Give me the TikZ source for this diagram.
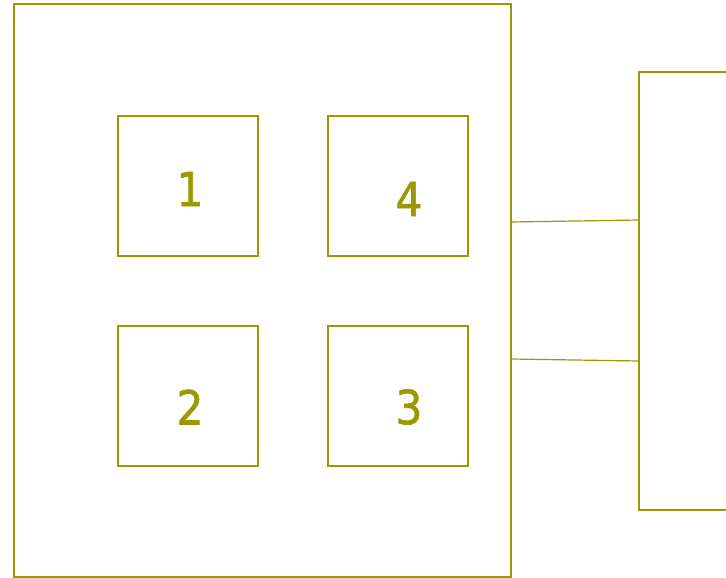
\documentclass[tikz,border=0pt]{standalone}
\usepackage{fontspec}
\setmainfont{DejaVu Sans}
\newfontfamily\numfont[FakeBold=1.4]{DejaVu Sans}
\usepackage{tikz}
\usepackage{xcolor}
\definecolor{olive}{RGB}{153,153,0}
\newcommand{\narrownum}[1]{\scalebox{0.9}[1]{#1}}

\begin{document}
\begin{tikzpicture}[x=1pt,y=1pt,yscale=-1,xscale=1,
  box/.style={draw=olive,line width=1.2pt,inner sep=0pt,minimum width=140pt,minimum height=140pt},
  num/.style={text=olive,inner sep=0.75pt,font=\numfont\fontsize{47}{47}\selectfont}]
\useasboundingbox (0,0) rectangle (726,578);
%Shape: Rectangle [id:board]
\draw [draw=olive,line width=1.2pt] (14,4) rectangle (511,577) ;
%Shape: Rectangle [id:panel]
\draw [draw=olive,line width=1.2pt] (639,72) rectangle (740,510) ;

% Small boxes
\node [box] (b1) at (188,186) {};
\node [box] (b4) at (398,186) {};
\node [box] (b2) at (188,396) {};
\node [box] (b3) at (398,396) {};

% Text Node
\node [num] (l1) at (190,189) {\narrownum{1}};
% Text Node
\node [num] (l4) at (409,199) {\narrownum{4}};
% Text Node
\node [num] (l2) at (190,407) {\narrownum{2}};
% Text Node
\node [num] (l3) at (409,407) {\narrownum{3}};

%Straight Lines
\coordinate (s1) at (511,222);
\coordinate (t1) at (639,220);
\coordinate (s2) at (511,359);
\coordinate (t2) at (639,361);
\draw [draw=olive,line width=1.2pt] (s1) -- (t1) ;
\draw [draw=olive,line width=1.2pt] (s2) -- (t2) ;
\end{tikzpicture}
\end{document}
